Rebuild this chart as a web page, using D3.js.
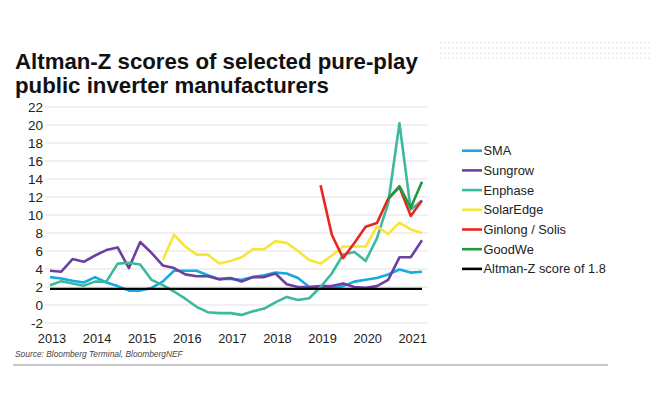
<!DOCTYPE html>
<html><head><meta charset="utf-8">
<script src="https://cdn.jsdelivr.net/npm/d3@7"></script>
<style>
html,body{margin:0;padding:0;background:#fff;}
svg{display:block;font-family:"Liberation Sans",Arial,sans-serif;}
</style></head>
<body>
<svg id="chart" width="650" height="406"></svg>
<script>
// ---- data ----
const quarters = ["2013Q1","2013Q2","2013Q3","2013Q4","2014Q1","2014Q2","2014Q3","2014Q4",
  "2015Q1","2015Q2","2015Q3","2015Q4","2016Q1","2016Q2","2016Q3","2016Q4",
  "2017Q1","2017Q2","2017Q3","2017Q4","2018Q1","2018Q2","2018Q3","2018Q4",
  "2019Q1","2019Q2","2019Q3","2019Q4","2020Q1","2020Q2","2020Q3","2020Q4",
  "2021Q1","2021Q2"];
const sma = [3.1,2.95,2.7,2.5,3.1,2.5,2.1,1.6,1.6,1.9,2.6,3.8,3.8,3.8,3.3,2.9,2.9,2.8,3.1,3.3,3.6,3.5,3.0,2.0,2.0,1.9,2.1,2.6,2.8,3.0,3.4,3.95,3.6,3.7];
const sungrow = [3.8,3.7,5.1,4.8,5.5,6.1,6.4,4.1,7.0,5.8,4.4,4.1,3.4,3.2,3.2,2.85,3.0,2.6,3.1,3.1,3.5,2.3,2.0,2.0,2.1,2.1,2.4,2.0,1.9,2.1,2.8,5.3,5.3,7.2];
const enphase = [2.2,2.65,2.4,2.15,2.6,2.6,4.6,4.7,4.5,2.8,2.2,1.5,0.7,-0.2,-0.8,-0.9,-0.9,-1.1,-0.7,-0.4,0.3,0.9,0.55,0.75,2.0,3.5,5.6,5.9,4.9,7.4,11.3,20.2,10.6,11.6];
const solarEdge = [null,null,null,null,null,null,null,null,null,null,5.0,7.8,6.5,5.6,5.6,4.6,4.9,5.3,6.2,6.2,7.1,6.9,6.0,5.0,4.6,5.5,6.5,6.5,6.5,8.7,7.9,9.15,8.4,8.0];
const ginlong = [null,null,null,null,null,null,null,null,null,null,null,null,null,null,null,null,null,null,null,null,null,null,null,null,13.3,7.8,5.2,6.9,8.7,9.1,11.8,13.1,9.9,11.6];
const goodWe = [null,null,null,null,null,null,null,null,null,null,null,null,null,null,null,null,null,null,null,null,null,null,null,null,null,null,null,null,null,null,11.8,13.2,10.8,13.7];
const threshold = 1.8;
const yTicks = [-2,0,2,4,6,8,10,12,14,16,18,20,22];
const yearTicks = [2013,2014,2015,2016,2017,2018,2019,2020,2021];
const seriesNames = ["SMA","Sungrow","Enphase","SolarEdge","Ginlong / Solis","GoodWe"];
const seriesColors = ["#19a9e1","#6b40a1","#3cb99d","#f7e53c","#e8261f","#20993d"];
const thresholdLabel = "Altman-Z score of 1.8";
const titleLines = ["Altman-Z scores of selected pure-play","public inverter manufacturers"];
const sourceText = "Source: Bloomberg Terminal, BloombergNEF";

// ---- layout ----
const svg = d3.select("#chart");
const tOf = q => +q.slice(0,4) + (+q.slice(5) - 1)/4;
const x = d3.scaleLinear().domain([tOf(quarters[0]), tOf(quarters[quarters.length-1])]).range([50, 422]);
const y = d3.scaleLinear().domain([-2, 22]).range([323, 107]);

// decorative dotted band (top right)
const defs = svg.append("defs");
const pat = defs.append("pattern").attr("id","dots").attr("patternUnits","userSpaceOnUse")
  .attr("width",4).attr("height",5.2);
pat.append("circle").attr("cx",1).attr("cy",1).attr("r",0.7).attr("fill","#d8d8d8");
svg.append("rect").attr("x",440).attr("y",41.5).attr("width",210).attr("height",20).attr("fill","url(#dots)");

// title
const title = svg.append("g");
titleLines.forEach((t,i)=>{
  title.append("text").attr("x",15).attr("y",69 + i*24)
    .attr("font-size",22).attr("font-weight","bold").attr("fill","#111").text(t);
});
const t0 = title.select("text").node();
const w0 = t0.getComputedTextLength();
title.selectAll("text").attr("font-size", 22 * 403 / w0);

// gridlines
svg.append("g").selectAll("line").data(yTicks).join("line")
  .attr("x1",45).attr("x2",428).attr("y1",d=>y(d)).attr("y2",d=>y(d))
  .attr("stroke","#e1e1e1").attr("stroke-width",1);

// y axis labels
const yAxis = d3.axisLeft(y).tickValues(yTicks).tickSize(0).tickPadding(0).tickFormat(d=>String(d));
const ya = svg.append("g").attr("transform","translate(43,0)").call(yAxis);
ya.select(".domain").remove();
ya.selectAll("text").attr("font-size",13.5).attr("fill","#222").attr("font-family","Liberation Sans, Arial, sans-serif");

// x axis labels
const xAxis = d3.axisBottom(x).tickValues(yearTicks).tickSize(0).tickPadding(0).tickFormat(d=>String(d));
const xa = svg.append("g").attr("transform","translate(1.5,334)").call(xAxis);
xa.select(".domain").remove();
xa.selectAll("text").attr("font-size",12.8).attr("fill","#222").attr("font-family","Liberation Sans, Arial, sans-serif");

// lines
const allSeries = [sma, sungrow, enphase, solarEdge, ginlong, goodWe];
const line = d3.line().defined(d=>d.v!=null).x(d=>x(d.t)).y(d=>y(d.v));
allSeries.forEach((vals,k)=>{
  const pts = quarters.map((q,i)=>({t:tOf(q), v:vals[i]}));
  svg.append("path").datum(pts).attr("d",line).attr("fill","none")
    .attr("stroke",seriesColors[k]).attr("stroke-width",2.6).attr("stroke-linejoin","round");
});
// threshold line
svg.append("path").datum(quarters.map(q=>({t:tOf(q), v:threshold}))).attr("d",line)
  .attr("fill","none").attr("stroke","#000").attr("stroke-width",2.2);

// legend
const legNames = seriesNames.concat([thresholdLabel]);
const legColors = seriesColors.concat(["#000"]);
const leg = svg.append("g").selectAll("g").data(legNames).join("g")
  .attr("transform",(d,i)=>`translate(462,${150.7 + i*19.7})`);
leg.append("line").attr("x1",0).attr("x2",20).attr("stroke",(d,i)=>legColors[i]).attr("stroke-width",2.6);
leg.append("text").attr("x",21.5).attr("dy","0.35em").attr("font-size",12.8).attr("fill","#222").text(d=>d);

// source
svg.append("text").attr("x",15).attr("y",356.5).attr("font-size",8.4).attr("font-style","italic")
  .attr("fill","#444").text(sourceText);
svg.append("line").attr("x1",13).attr("x2",608).attr("y1",365).attr("y2",365)
  .attr("stroke","#b5b5bd").attr("stroke-width",1.6);
</script>
</body></html>
